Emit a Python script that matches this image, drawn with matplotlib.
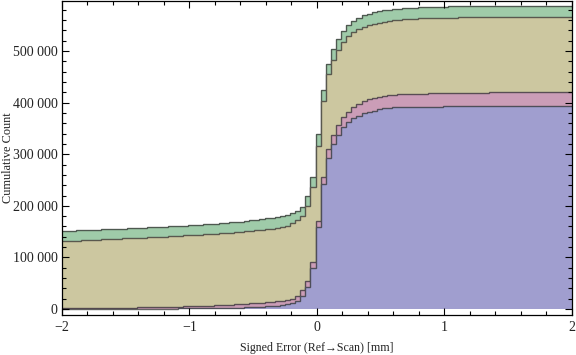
import numpy as np
import matplotlib
matplotlib.use("Agg")
import matplotlib.pyplot as plt
from matplotlib.ticker import FuncFormatter, MultipleLocator

# bin edges of the cumulative histogram (width 0.04)
edges = np.round(np.arange(101 + 1) * 0.04 - 2.01, 3)

# cumulative counts per bin, in thousands
green = [151.2, 151.6, 152.0, 152.4, 152.8, 153.2, 153.6, 154.0, 154.4, 154.8,
         155.2, 155.6, 156.0, 156.4, 156.8, 157.2, 157.7, 158.2, 158.7, 159.2,
         159.7, 160.2, 160.7, 161.2, 161.7, 162.3, 162.9, 163.5, 164.1, 164.7,
         165.4, 166.2, 167.0, 167.8, 168.7, 169.6, 170.6, 171.7, 172.9, 174.2,
         175.6, 177.2, 178.9, 180.5, 182.3, 185.5, 190.5, 198.5, 220.0, 256.8,
         338.6, 424.4, 474.2, 503.3, 522.7, 538.8, 550.4, 558.7, 565.0, 569.5,
         572.5, 575.0, 577.0, 578.7, 580.0, 581.2, 582.2, 583.0, 583.7, 584.3,
         584.8, 585.2, 585.5, 585.8, 586.0, 586.2, 586.4, 586.5, 586.6, 586.7,
         586.8, 586.8, 586.9, 586.9, 587.0, 587.0, 587.1, 587.1, 587.2, 587.2,
         587.2, 587.3, 587.3, 587.3, 587.4, 587.4, 587.4, 587.4, 587.5, 587.5,
         587.5]
yellow = [131.4, 131.8, 132.2, 132.7, 133.1, 133.6, 134.0, 134.5, 134.9, 135.4,
          135.8, 136.3, 136.7, 137.2, 137.6, 138.1, 138.6, 139.0, 139.5, 140.0,
          140.5, 141.0, 141.5, 142.0, 142.5, 143.0, 143.6, 144.2, 144.8, 145.4,
          146.0, 146.7, 147.4, 148.1, 148.9, 149.7, 150.5, 151.4, 152.4, 153.5,
          154.7, 156.0, 157.6, 159.5, 161.8, 166.0, 172.5, 180.0, 199.6, 237.0,
          316.5, 403.1, 454.8, 482.6, 501.9, 518.0, 529.1, 537.4, 542.1, 547.0,
          550.5, 553.0, 555.0, 556.8, 558.2, 559.5, 560.5, 561.3, 562.0, 562.6,
          563.1, 563.5, 563.9, 564.2, 564.5, 564.7, 564.9, 565.0, 565.1, 565.2,
          565.3, 565.4, 565.5, 565.5, 565.6, 565.6, 565.7, 565.7, 565.8, 565.8,
          565.9, 565.9, 566.0, 566.0, 566.0, 566.1, 566.1, 566.1, 566.2, 566.2,
          566.2]
pink = [1.0, 1.1, 1.2, 1.3, 1.4, 1.5, 1.6, 1.7, 1.9, 2.0,
        2.2, 2.3, 2.5, 2.7, 2.8, 3.0, 3.2, 3.4, 3.6, 3.8,
        4.0, 4.3, 4.5, 4.8, 5.1, 5.4, 5.7, 6.0, 6.4, 6.8,
        7.2, 7.6, 8.1, 8.6, 9.1, 9.7, 10.3, 11.0, 11.7, 12.5,
        13.4, 14.2, 15.0, 15.8, 16.8, 19.0, 25.5, 36.8, 54.5, 91.7,
        171.1, 256.4, 309.5, 337.2, 356.6, 371.5, 382.4, 390.9, 397.3, 403.1,
        406.4, 409.5, 411.4, 413.4, 414.7, 415.2, 416.0, 416.5, 416.8, 417.1,
        417.4, 417.7, 418.0, 418.2, 418.4, 418.6, 418.8, 419.0, 419.1, 419.2,
        419.3, 419.4, 419.5, 419.6, 419.7, 419.7, 419.8, 419.8, 419.9, 419.9,
        420.0, 420.0, 420.1, 420.1, 420.2, 420.2, 420.3, 420.3, 420.4, 420.4,
        420.5]
blue = [0.2, 0.2, 0.2, 0.2, 0.3, 0.3, 0.3, 0.3, 0.4, 0.4,
        0.4, 0.4, 0.5, 0.5, 0.5, 0.6, 0.6, 0.6, 0.7, 0.7,
        0.8, 0.8, 0.9, 1.0, 1.0, 1.1, 1.2, 1.3, 1.4, 1.5,
        1.6, 1.8, 2.0, 2.3, 2.6, 2.9, 3.3, 3.7, 4.2, 4.7,
        5.3, 6.0, 6.8, 7.8, 9.7, 11.0, 16.5, 24.5, 42.1, 78.9,
        158.3, 241.7, 292.1, 319.2, 337.2, 353.3, 361.8, 369.6, 374.0, 379.3,
        381.8, 384.3, 387.0, 389.0, 390.1, 390.6, 391.2, 391.6, 391.9, 392.1,
        392.2, 392.3, 392.4, 392.5, 392.5, 392.6, 392.6, 392.7, 392.7, 392.7,
        392.8, 392.8, 392.8, 392.8, 392.9, 392.9, 392.9, 392.9, 393.0, 393.0,
        393.0, 393.0, 393.0, 393.1, 393.1, 393.1, 393.1, 393.1, 393.2, 393.2,
        393.2]

series = [green, yellow, pink, blue]
colors = ["#9fcba9", "#ccc7a0", "#cb9db7", "#a09ecf"]

plt.rcParams["font.family"] = ["Liberation Serif", "DejaVu Serif"]

fig = plt.figure(figsize=(5.76, 3.55), dpi=100)
ax = fig.add_axes([61.7 / 576, 1 - 315 / 355, (572 - 61.7) / 576, (315 - 1) / 355])

for vals, col in zip(series, colors):
    v = np.array(vals) * 1000
    ax.stairs(v, edges, baseline=0, fill=True, facecolor=col, edgecolor="none")
    ax.stairs(v, edges, baseline=None, color=(0.2, 0.2, 0.2, 0.75), linewidth=1.0)

ax.set_xlim(-2, 2)
ax.set_ylim(-11600, 597000)

ax.xaxis.set_major_locator(MultipleLocator(1))
ax.xaxis.set_minor_locator(MultipleLocator(0.2))
ax.yaxis.set_major_locator(MultipleLocator(100000))
ax.yaxis.set_minor_locator(MultipleLocator(20000))
ax.yaxis.set_major_formatter(FuncFormatter(lambda v, p: "{:,}".format(int(v)).replace(",", " ")))

ax.tick_params(which="both", direction="in", top=True, right=True, colors="black",
               labelcolor="#222222", labelsize=10, width=0.8)
ax.tick_params(which="major", length=5)
ax.tick_params(which="minor", length=3)
ax.tick_params(axis="y", pad=3)
ax.tick_params(axis="x", pad=4)
for s in ax.spines.values():
    s.set_linewidth(0.9)

ax.set_ylabel("Cumulative Count", fontsize=8.8, color="#222222")
ax.yaxis.set_label_coords(-0.094, 0.5)
ax.set_xlabel("Signed Error (Ref\u2192Scan) [mm]", fontsize=8.6, color="#222222")
ax.xaxis.set_label_coords(0.5, -0.085)

fig.savefig("out.png", dpi=100)
